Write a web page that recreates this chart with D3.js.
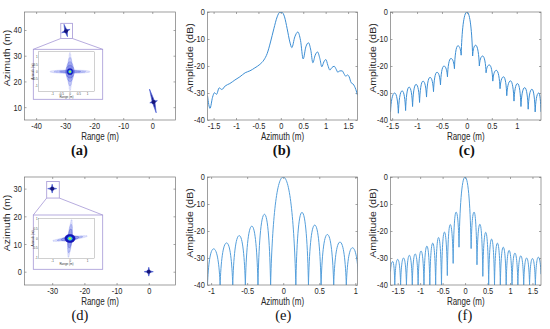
<!DOCTYPE html>
<html>
<head>
<meta charset="utf-8">
<script src="https://cdn.jsdelivr.net/npm/d3@7"></script>
<style>
  body { margin: 0; background: #fff; }
  svg { display: block; }
</style>
</head>
<body>
<div id="chart"></div>
<script>
// ---- values ----

// (a) imaged point targets, first geometry (m)
const aTgtX = [-29.7, 0.45];
const aTgtY = [39.6, 12.0];
// arms of each target response: [dx1, dy1, dx2, dy2] from the centre (m)
const aArms = [
  [[-0.7, 2.6, 0.5, -2.2], [-1.5, -0.65, 1.4, 0.65]],
  [[-1.4, 5.0, 0.9, -4.2], [-1.3, -0.3, 1.3, 0.5]]
];
const aZoom = [-31.5, -27.5, 36.7, 42.6];
// (a) inset contours: half sizes (m), contour level, tilt
const aInRx = [1.15, 0.9, 0.6, 0.09, 0.15, 0.22, 0.24, 0.16, 0.09, 0.05, 0.025];
const aInRy = [0.12, 0.09, 0.07, 1.35, 1.0, 0.7, 0.45, 0.22, 0.12, 0.07, 0.035];
const aInLv = [0, 0.12, 0.25, 0, 0.1, 0.2, 0.3, 0.4, 0.6, 0.8, 1];
const aInRot = [0, 0, 0, 0, 0, 0, 0, 0, 0, 0, 0];

// (d) imaged point targets, second geometry (m)
const dTgtX = [-30, 0];
const dTgtY = [30, 0];
const dArms = [
  [[-1.4, 0, 1.4, 0], [0, 1.6, 0, -1.6]],
  [[-1.4, 0, 1.4, 0], [0, 1.6, 0, -1.6]]
];
const dZoom = [-31.7, -27.8, 26.6, 32.6];
const dInRx = [1.0, 0.75, 0.08, 0.12, 0.5, 0.12, 0.3, 0.14, 0.08, 0.04];
const dInRy = [0.08, 0.06, 1.0, 0.75, 0.12, 0.5, 0.22, 0.1, 0.06, 0.03];
const dInLv = [0, 0.15, 0, 0.15, 0.3, 0.3, 0.4, 0.6, 0.8, 1];
const dInRot = [-8, -8, 5, 5, -8, 5, 0, 0, 0, 0];

// (b) azimuth profile (m, dB)
const bX = [-1.636, -1.58, -1.524, -1.48, -1.435, -1.375, -1.316, -1.242, -1.138, -1.026,
  -0.914, -0.796, -0.691, -0.58, -0.468, -0.379, -0.305, -0.23, -0.156, -0.082, -0.022,
  0.022, 0.082, 0.141, 0.201, 0.245, 0.312, 0.379, 0.439, 0.498, 0.558, 0.617, 0.669,
  0.714, 0.766, 0.818, 0.87, 0.914, 0.959, 1.004, 1.048, 1.093, 1.138, 1.19, 1.234,
  1.271, 1.316, 1.368, 1.413, 1.45, 1.487, 1.524, 1.569, 1.613, 1.673, 1.71];
const bY = [-31, -35.7, -31.6, -29.9, -30.5, -28.1, -28.7, -27.4, -26.5, -25.2,
  -24.0, -22.5, -21.8, -20.7, -19.4, -17.8, -15.4, -11.1, -6.2, -1.8, -0.1,
  -0.1, -1.8, -6.2, -11.1, -13.2, -9.2, -7.4, -10.5, -17.4, -12.9, -11.4, -14.2,
  -18.8, -16, -14.8, -17.2, -20.3, -18.5, -17.6, -19.7, -21.5, -20.6, -20.1, -21.2,
  -22.3, -21.8, -21.8, -23.0, -23.8, -23.3, -24, -26.2, -26.7, -28.7, -30.8];

// (c) range profile: alternating nulls and lobe peaks (m, dB)
const cX = [-1.533, -1.45, -1.375, -1.30, -1.23, -1.16, -1.09, -1.02, -0.95, -0.88, -0.81,
  -0.74, -0.67, -0.60, -0.53, -0.46, -0.39, -0.32, -0.25, -0.18, -0.115, 0, 0.115, 0.175,
  0.25, 0.315, 0.385, 0.45, 0.52, 0.59, 0.665, 0.735, 0.80, 0.875, 0.945, 1.015, 1.085,
  1.16, 1.23, 1.305, 1.37, 1.44, 1.487];
const cY = [-37, -30, -37.5, -29.2, -36.5, -27.8, -35, -26.8, -33.5, -25.6, -31.5,
  -24.2, -29.5, -22.3, -27, -20, -24, -17.2, -21, -12.5, -16, 0, -16.3, -12.3,
  -20, -16.3, -22.5, -19.6, -25.6, -21.6, -28.4, -24, -31, -25.5, -33, -26.5, -35,
  -28, -36, -28.6, -37, -30, -37];

// (e) azimuth profile, second geometry
const eX = [-1.05, -0.965, -0.875, -0.785, -0.70, -0.61, -0.525, -0.435, -0.35, -0.26,
  -0.175, 0, 0.175, 0.26, 0.35, 0.437, 0.525, 0.612, 0.70, 0.787, 0.875, 0.96, 1.05];
const eY = [-40, -26.6, -40, -24.4, -40, -21.7, -40, -18.2, -40, -13.8,
  -40, 0, -40, -13.1, -40, -17.8, -40, -21.3, -40, -24.1, -40, -26.2, -40];

// (f) range profile, second geometry
const fX = [-1.66, -1.61, -1.565, -1.50, -1.435, -1.37, -1.305, -1.24, -1.175, -1.11,
  -1.045, -0.98, -0.915, -0.85, -0.785, -0.72, -0.655, -0.59, -0.525, -0.46, -0.395,
  -0.33, -0.265, -0.20, -0.135, 0, 0.135, 0.20, 0.265, 0.33, 0.395, 0.46, 0.525, 0.59,
  0.655, 0.72, 0.785, 0.85, 0.915, 0.98, 1.045, 1.11, 1.175, 1.24, 1.305, 1.37, 1.435,
  1.50, 1.565, 1.63, 1.69];
const fY = [-35, -31.3, -40, -30.5, -40, -30, -40, -29, -40, -28.5,
  -40, -27.4, -40, -25.6, -40, -24.5, -40, -22.4, -40, -20.4, -36.5,
  -17.6, -32, -13, -26, 0, -26.5, -13, -32.5, -17.5, -36.8, -20.5, -40, -23,
  -40, -24.5, -40, -26, -40, -27.2, -40, -28.2, -40, -29.2, -40, -30, -40,
  -30.2, -40, -29.7, -36];

// ---- drawing ----
const SQ = 0.8; // text in the figure is squeezed horizontally
const SANS = "'Liberation Sans', Arial, Helvetica, sans-serif";
const SERIF = "'Liberation Serif', 'Times New Roman', serif";

const svg = d3.select("#chart").append("svg")
  .attr("width", 550).attr("height", 329)
  .style("font-family", SANS);

// lobe curve: round top at each peak, steep flank into each null
function curveLobe(context) {
  let x0, y0, n = 0;
  return {
    areaStart() {}, areaEnd() {},
    lineStart() { n = 0; },
    lineEnd() {},
    point(x, y) {
      x = +x; y = +y;
      if (n++ === 0) {
        context.moveTo(x, y);
      } else {
        const dx = x - x0, dy = y - y0;
        if (dy < 0) {
          context.bezierCurveTo(x0 + 0.12 * dx, y0 + 0.55 * dy, x - 0.55 * dx, y, x, y);
        } else {
          context.bezierCurveTo(x0 + 0.55 * dx, y0, x - 0.12 * dx, y - 0.55 * dy, x, y);
        }
      }
      x0 = x; y0 = y;
    }
  };
}

function makePanel(id, box, xDom, yDom, xTicks, yTicks, xLabel, yLabel, tag, tagBold, tagPos) {
  const x = d3.scaleLinear().domain(xDom).range([box.l, box.r]);
  const y = d3.scaleLinear().domain(yDom).range([box.b, box.t]);
  const g = svg.append("g").attr("class", "panel-" + id);

  g.append("defs").append("clipPath").attr("id", "clip-" + id)
    .append("rect")
    .attr("x", box.l).attr("y", box.t)
    .attr("width", box.r - box.l).attr("height", box.b - box.t);

  const fmt = d => String(d);
  g.append("g").attr("class", "axis")
    .attr("transform", `translate(0,${box.b})`)
    .call(d3.axisBottom(x).tickValues(xTicks).tickSize(-2).tickPadding(2.6).tickFormat(fmt));
  g.append("g").attr("class", "axis")
    .attr("transform", `translate(0,${box.t})`)
    .call(d3.axisTop(x).tickValues(xTicks).tickSize(-2).tickFormat(""));
  g.append("g").attr("class", "axis")
    .attr("transform", `translate(${box.l},0)`)
    .call(d3.axisLeft(y).tickValues(yTicks).tickSize(-2).tickPadding(3.4).tickFormat(fmt));
  g.append("g").attr("class", "axis")
    .attr("transform", `translate(${box.r},0)`)
    .call(d3.axisRight(y).tickValues(yTicks).tickSize(-2).tickFormat(""));

  g.selectAll(".axis").attr("font-family", null).attr("font-size", 9.3);
  g.selectAll(".domain").remove();
  g.selectAll(".tick line").attr("stroke", "#6a6a6a").attr("stroke-width", 0.6);
  g.selectAll(".tick text").attr("fill", "#262626").attr("transform", `scale(${SQ},1)`);

  const plot = g.append("g").attr("clip-path", `url(#clip-${id})`);
  const over = g.append("g");

  over.append("rect")
    .attr("x", box.l).attr("y", box.t)
    .attr("width", box.r - box.l).attr("height", box.b - box.t)
    .attr("fill", "none").attr("stroke", "#757575").attr("stroke-width", 0.7);

  // axis titles
  g.append("text")
    .attr("transform", `translate(${(box.l + box.r) / 2},${box.b + 20.3}) scale(${SQ},1)`)
    .attr("text-anchor", "middle").attr("font-size", 10).attr("fill", "#262626")
    .text(xLabel);
  g.append("text")
    .attr("transform", `translate(${box.l - 17},${(box.t + box.b) / 2 - 8}) scale(${SQ},1) rotate(-90)`)
    .attr("text-anchor", "middle").attr("dy", "0.35em")
    .attr("font-size", 10.5).attr("fill", "#262626")
    .text(yLabel);

  // sub-figure tag
  svg.append("text")
    .attr("x", tagPos[0]).attr("y", tagPos[1])
    .attr("text-anchor", "middle")
    .attr("font-family", SERIF).attr("font-size", 14.5)
    .attr("font-weight", tagBold ? "bold" : "normal")
    .attr("fill", "#111")
    .text(tag);

  return { x, y, plot, over };
}

function drawProfile(p, xs, ys, curve, color) {
  const line = d3.line().x(d => p.x(d[0])).y(d => p.y(d[1])).curve(curve);
  p.plot.append("path")
    .datum(d3.zip(xs, ys))
    .attr("fill", "none")
    .attr("stroke", color)
    .attr("stroke-width", 1)
    .attr("stroke-linejoin", "round")
    .attr("d", line);
}

function drawTargets(p, tx, ty, arms, w) {
  tx.forEach((cx, i) => {
    const cy = ty[i];
    const px = p.x(cx), py = p.y(cy);
    arms[i].forEach(a => {
      const ax = p.x(cx + a[0]), ay = p.y(cy + a[1]);
      const bx = p.x(cx + a[2]), by = p.y(cy + a[3]);
      const len = Math.hypot(bx - ax, by - ay);
      const nx = -(by - ay) / len, ny = (bx - ax) / len;
      const pts = [[ax, ay], [px + nx * w, py + ny * w], [bx, by], [px - nx * w, py - ny * w]];
      p.plot.append("polygon")
        .attr("points", pts.join(" "))
        .attr("fill", "#1d1d8c")
        .attr("stroke", "#4d61d8").attr("stroke-width", 0.7)
        .attr("stroke-linejoin", "round");
    });
    p.plot.append("ellipse")
      .attr("cx", px).attr("cy", py).attr("rx", 1.9).attr("ry", 1.9)
      .attr("fill", "#15157a");
  });
}

const jet = d3.scaleLinear()
  .domain([0, 0.2, 0.4, 0.6, 0.8, 1])
  .range(["#8f99f0", "#3c4fe0", "#1414b8", "#26c4f0", "#9ae060", "#f4f020"]);

function drawInset(p, zoom, outer, inner, xDom, yDom, xTicks, yTicks, rx, ry, lv, rot) {
  const lav = "#a497d6";
  // zoom window around the far target and the leader lines
  const zx0 = p.x(zoom[0]), zx1 = p.x(zoom[1]);
  const zy0 = p.y(zoom[2]), zy1 = p.y(zoom[3]);
  p.over.append("rect")
    .attr("x", zx0).attr("y", zy1).attr("width", zx1 - zx0).attr("height", zy0 - zy1)
    .attr("fill", "none").attr("stroke", lav).attr("stroke-width", 0.8);
  p.over.append("line").attr("x1", zx0).attr("y1", zy0).attr("x2", outer.l).attr("y2", outer.t)
    .attr("stroke", lav).attr("stroke-width", 0.8);
  p.over.append("line").attr("x1", zx1).attr("y1", zy0).attr("x2", outer.r).attr("y2", outer.t)
    .attr("stroke", lav).attr("stroke-width", 0.8);
  p.over.append("rect")
    .attr("x", outer.l).attr("y", outer.t)
    .attr("width", outer.r - outer.l).attr("height", outer.b - outer.t)
    .attr("fill", "#fff").attr("stroke", lav).attr("stroke-width", 0.8);

  const ix = d3.scaleLinear().domain(xDom).range([inner.l, inner.r]);
  const iy = d3.scaleLinear().domain(yDom).range([inner.b, inner.t]);
  const g = p.over.append("g");

  const order = d3.range(rx.length).sort((a, b) => lv[a] - lv[b]);
  order.forEach(i => {
    const e = g.append("ellipse")
      .attr("transform", `translate(${ix(0)},${iy(0)}) rotate(${rot[i]})`)
      .attr("rx", ix(rx[i]) - ix(0)).attr("ry", iy(0) - iy(ry[i]))
      .attr("stroke", jet(lv[i]));
    if (lv[i] < 0.4) {
      e.attr("fill", jet(lv[i])).attr("fill-opacity", 0.25)
        .attr("stroke-width", 0.45).attr("stroke-dasharray", "0.6,0.5");
    } else {
      e.attr("fill", jet(lv[i])).attr("stroke-width", 0.3);
    }
  });

  g.append("rect")
    .attr("x", inner.l).attr("y", inner.t)
    .attr("width", inner.r - inner.l).attr("height", inner.b - inner.t)
    .attr("fill", "none").attr("stroke", "#8a8a8a").attr("stroke-width", 0.4);

  g.selectAll(".ixt").data(xTicks).join("text")
    .attr("x", d => ix(d)).attr("y", inner.b + 3.2)
    .attr("text-anchor", "middle").attr("font-size", 3).attr("fill", "#444")
    .text(d => String(d));
  g.selectAll(".iyt").data(yTicks).join("text")
    .attr("x", inner.l - 0.8).attr("y", d => iy(d) + 1)
    .attr("text-anchor", "end").attr("font-size", 3).attr("fill", "#444")
    .text(d => String(d));
  g.append("text")
    .attr("x", (inner.l + inner.r) / 2).attr("y", inner.b + 6.5)
    .attr("text-anchor", "middle").attr("font-size", 3).attr("fill", "#333")
    .text("Range (m)");
  g.append("text")
    .attr("transform", `translate(${inner.l - 4.6},${(inner.t + inner.b) / 2}) rotate(-90)`)
    .attr("text-anchor", "middle").attr("font-size", 3).attr("fill", "#333")
    .text("Azimuth (m)");
}

// panel boxes (pixel layout)
const colL = [24.5, 175.5], colM = [207.5, 357.5], colR = [390.5, 541];
const rowT = [12, 120], rowB = [177, 285];
const bx = (c, r) => ({ l: c[0], r: c[1], t: r[0], b: r[1] });

const blue = "#3d8ed3";
const blueLight = "#559fdb";

// (a)
const pa = makePanel("a", bx(colL, rowT), [-44, 8], [5, 47],
  [-40, -30, -20, -10, 0], [10, 20, 30, 40], "Range (m)", "Azimuth (m)", "(a)", true, [79.5, 155.3]);
drawTargets(pa, aTgtX, aTgtY, aArms, 1.3);
drawInset(pa, aZoom,
  { l: 33.3, r: 102.7, t: 49.3, b: 99.3 }, { l: 38.5, r: 94.5, t: 51.8, b: 91.5 },
  [-1.8, 1.4], [-1.4, 1.4], [-1, -0.5, 0, 0.5, 1], [-1, -0.5, 0, 0.5, 1],
  aInRx, aInRy, aInLv, aInRot);

// (b)
const pb = makePanel("b", bx(colM, rowT), [-1.636, 1.71], [-40, 0],
  [-1.5, -1, -0.5, 0, 0.5, 1, 1.5], [-40, -30, -20, -10, 0], "Azimuth (m)", "Amplitude (dB)", "(b)", true, [281.7, 155.3]);
drawProfile(pb, bX, bY, d3.curveMonotoneX, blue);

// (c)
const pc = makePanel("c", bx(colR, rowT), [-1.533, 1.487], [-40, 0],
  [-1.5, -1, -0.5, 0, 0.5, 1], [-40, -30, -20, -10, 0], "Range (m)", "Amplitude (dB)", "(c)", true, [466.7, 155.3]);
drawProfile(pc, cX, cY, curveLobe, blue);

// (d)
const pd = makePanel("d", bx(colL, rowB), [-38.6, 8.3], [-4.8, 34.2],
  [-30, -20, -10, 0], [0, 10, 20, 30], "Range (m)", "Azimuth (m)", "(d)", false, [80, 320.3]);
drawTargets(pd, dTgtX, dTgtY, dArms, 1.1);
drawInset(pd, dZoom,
  { l: 33.3, r: 102.7, t: 215, b: 269.3 }, { l: 38.5, r: 94.5, t: 218.5, b: 258.5 },
  [-1.8, 1.4], [-1.05, 1.05], [-1, 0, 1], [-1, -0.5, 0, 0.5, 1],
  dInRx, dInRy, dInLv, dInRot);

// (e)
const pe = makePanel("e", bx(colM, rowB), [-1.05, 1.03], [-40, 0],
  [-1, -0.5, 0, 0.5, 1], [-40, -30, -20, -10, 0], "Azimuth (m)", "Amplitude (dB)", "(e)", false, [283.3, 320.3]);
drawProfile(pe, eX, eY, curveLobe, blueLight);

// (f)
const pf = makePanel("f", bx(colR, rowB), [-1.66, 1.69], [-40, 0],
  [-1.5, -1, -0.5, 0, 0.5, 1, 1.5], [-40, -30, -20, -10, 0], "Range (m)", "Amplitude (dB)", "(f)", false, [465, 320.3]);
drawProfile(pf, fX, fY, curveLobe, blueLight);
</script>
</body>
</html>
